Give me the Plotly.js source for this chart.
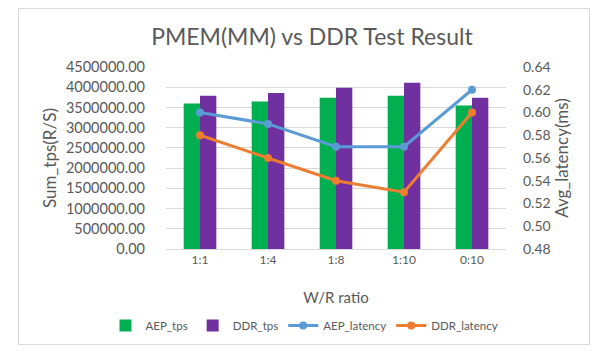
<!DOCTYPE html>
<html>
<head>
<meta charset="utf-8">
<script src="https://cdn.plot.ly/plotly-3.0.1.min.js"></script>
<style>
html,body{margin:0;padding:0;background:#fff;}
#wrap{position:relative;width:608px;height:355px;}
#frame{position:absolute;left:18px;top:8px;width:572px;height:337px;border:1px solid #d9d9d9;box-sizing:border-box;pointer-events:none;z-index:5;}
#chart{position:absolute;left:0;top:0;width:608px;height:355px;}
</style>
</head>
<body>
<div id="wrap"><div id="chart"></div><div id="frame"></div></div>
<script>
const categories = ["1:1", "1:4", "1:8", "1:10", "0:10"];
const aepTps = [3600000, 3650000, 3740000, 3790000, 3550000];
const ddrTps = [3790000, 3860000, 3990000, 4110000, 3740000];
const aepLatency = [0.60, 0.59, 0.57, 0.57, 0.62];
const ddrLatency = [0.58, 0.56, 0.54, 0.53, 0.60];

const font = "Lato, 'Open Sans', sans-serif";
const gray = "#595959";

const traces = [
  {type: "bar", name: "AEP_tps", x: categories, y: aepTps, marker: {color: "#00B050"}},
  {type: "bar", name: "DDR_tps", x: categories, y: ddrTps, marker: {color: "#7030A0"}},
  {type: "scatter", mode: "lines+markers", name: "AEP_latency", x: categories, y: aepLatency, yaxis: "y2",
   line: {color: "#5B9BD5", width: 3}, marker: {color: "#5B9BD5", size: 8}},
  {type: "scatter", mode: "lines+markers", name: "DDR_latency", x: categories, y: ddrLatency, yaxis: "y2",
   line: {color: "#ED7D31", width: 3}, marker: {color: "#ED7D31", size: 8}}
];

const layout = {
  width: 608, height: 355,
  margin: {l: 166, r: 102, t: 67, b: 106, pad: 0},
  paper_bgcolor: "#fff", plot_bgcolor: "#fff",
  font: {family: font, color: gray, size: 13},
  title: {text: "PMEM(MM) vs DDR Test Result", font: {family: font, size: 23, color: gray},
          x: 0.513, xanchor: "center", y: 0.895, yanchor: "middle", xref: "container", yref: "container"},
  barmode: "group", bargap: 0.52, bargroupgap: 0,
  xaxis: {type: "category", showgrid: false, showline: true, linecolor: "#d9d9d9", linewidth: 1,
          ticks: "", tickfont: {size: 12, color: gray},
          title: {text: "W/R ratio", font: {size: 15, color: gray}, standoff: 26}},
  yaxis: {range: [0, 4500000], dtick: 500000, tickformat: ".2f", showgrid: true, gridcolor: "#d9d9d9",
          zeroline: false, showline: false, ticks: "", tickfont: {size: 14.5, color: gray},
          ticklabelstandoff: 20,
          title: {text: "Sum_tps(R/S)", font: {size: 17, color: gray}, standoff: 4}},
  yaxis2: {overlaying: "y", side: "right", range: [0.48, 0.64], dtick: 0.02, tickformat: ".2f",
           showgrid: false, zeroline: false, showline: false, ticks: "", tickfont: {size: 14, color: gray},
           ticklabelstandoff: 16,
           title: {text: "Avg_latency(ms)", font: {size: 17, color: gray}, standoff: 6}},
  showlegend: true,
  legend: {orientation: "h", xref: "paper", yref: "paper", x: -0.178, xanchor: "left",
           y: -0.42, yanchor: "middle",
           font: {size: 11.5, color: gray}, traceorder: "normal", bgcolor: "rgba(0,0,0,0)"}
};

Plotly.newPlot("chart", traces, layout, {displayModeBar: false, staticPlot: true});
</script>
</body>
</html>
